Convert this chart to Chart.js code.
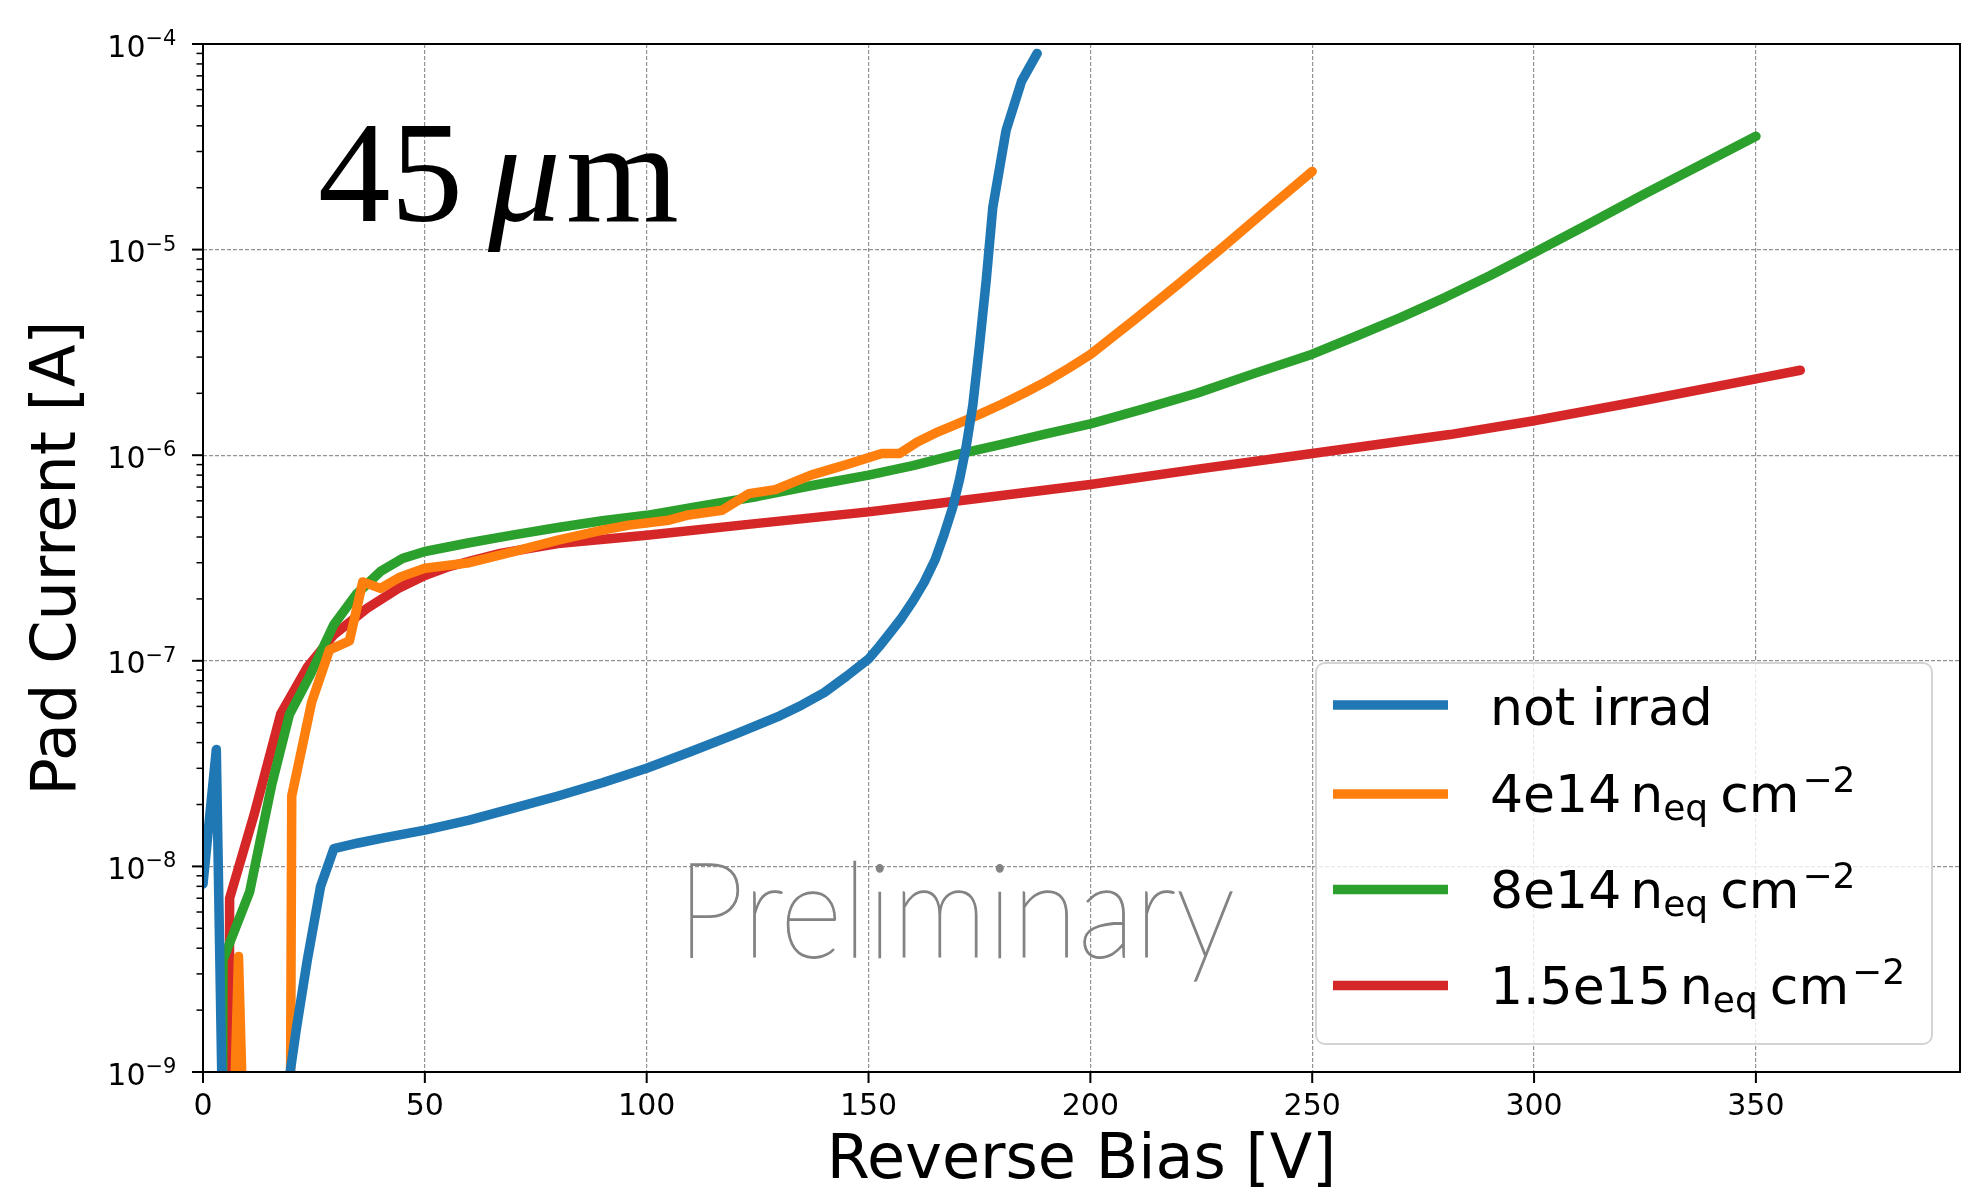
<!DOCTYPE html>
<html><head><meta charset="utf-8">
<script src="https://cdn.jsdelivr.net/npm/chart.js@4/dist/chart.umd.min.js"></script>
<style>html,body{margin:0;padding:0;background:#fff;overflow:hidden}canvas{display:block}</style>
</head><body>
<canvas id="c" width="1961" height="1190"></canvas>
<script>
// ---------- data ----------
const seriesLabels = ['not irrad', '4e14', '8e14', '1.5e15'];
const seriesHasUnit = [false, true, true, true];
const seriesColors = ['#1f77b4', '#ff7f0e', '#2ca02c', '#d62728'];
const xTicks = [0, 50, 100, 150, 200, 250, 300, 350];
const yDecades = [-9, -8, -7, -6, -5, -4];

const notIrradV = [0, 3, 5, 19, 21, 23.5, 26.5, 29.5, 35, 41, 50, 60, 70, 80, 90, 100, 110, 120, 130, 135, 140, 145, 150, 152.5, 155, 157.5, 160, 162.5, 165, 167, 169, 170.5, 172, 173.5, 175, 176.5, 178, 181, 184.5, 188];
const notIrradI = [8.2e-9, 3.7e-8, 1e-10, 8e-10, 1.6e-9, 3.5e-9, 8e-9, 1.22e-8, 1.3e-8, 1.38e-8, 1.5e-8, 1.68e-8, 1.92e-8, 2.2e-8, 2.55e-8, 3.0e-8, 3.62e-8, 4.4e-8, 5.4e-8, 6.1e-8, 7.0e-8, 8.4e-8, 1.02e-7, 1.18e-7, 1.38e-7, 1.62e-7, 1.95e-7, 2.4e-7, 3.1e-7, 4.1e-7, 5.6e-7, 7.6e-7, 1.1e-6, 1.75e-6, 3.4e-6, 7e-6, 1.6e-5, 3.8e-5, 6.6e-5, 9e-5];

const f4e14V = [0, 6, 8, 10, 19, 20, 24.5, 28.5, 33, 36, 40, 44.5, 50, 60, 70, 80, 90, 96, 105, 109, 117, 123, 129, 137, 145, 153, 157, 161, 165, 170, 175, 180, 185, 190, 195, 200, 210, 220, 230, 240, 250];
const f4e14I = [1e-12, 1e-10, 3.65e-9, 1e-10, 1e-13, 2.2e-8, 6.3e-8, 1.13e-7, 1.25e-7, 2.42e-7, 2.25e-7, 2.56e-7, 2.82e-7, 3.0e-7, 3.4e-7, 3.86e-7, 4.32e-7, 4.57e-7, 4.83e-7, 5.1e-7, 5.4e-7, 6.5e-7, 6.8e-7, 8.0e-7, 9.0e-7, 1.02e-6, 1.02e-6, 1.16e-6, 1.28e-6, 1.42e-6, 1.58e-6, 1.77e-6, 2.0e-6, 2.28e-6, 2.64e-6, 3.09e-6, 4.57e-6, 6.84e-6, 1.035e-5, 1.58e-5, 2.4e-5];

const f8e14V = [0, 4, 4.5, 10.5, 15.5, 19.5, 24, 29.5, 34.5, 40, 45, 50, 60, 70, 80, 90, 100, 112, 125, 137, 150, 160, 170, 180, 190, 200, 212, 224, 237, 250, 260, 270, 280, 290, 300, 312.5, 325, 337.5, 350];
const f8e14I = [1e-13, 1e-13, 3.5e-9, 7.5e-9, 2.5e-8, 5.5e-8, 8.4e-8, 1.5e-7, 2.1e-7, 2.72e-7, 3.15e-7, 3.4e-7, 3.75e-7, 4.1e-7, 4.45e-7, 4.8e-7, 5.1e-7, 5.65e-7, 6.3e-7, 7.1e-7, 8.0e-7, 8.9e-7, 1.01e-6, 1.13e-6, 1.27e-6, 1.42e-6, 1.68e-6, 2.0e-6, 2.5e-6, 3.1e-6, 3.8e-6, 4.68e-6, 5.86e-6, 7.46e-6, 9.66e-6, 1.34e-5, 1.87e-5, 2.58e-5, 3.56e-5];

const f15e15V = [0, 5.5, 6, 11.5, 17.5, 23.5, 29.5, 37, 44, 50, 55, 60, 67, 80, 100, 125, 150, 165, 200, 225, 250, 281, 300, 325, 350, 360];
const f15e15I = [1e-13, 1e-13, 7e-9, 1.78e-8, 5.5e-8, 9.3e-8, 1.34e-7, 1.8e-7, 2.25e-7, 2.6e-7, 2.85e-7, 3.05e-7, 3.33e-7, 3.72e-7, 4.08e-7, 4.66e-7, 5.3e-7, 5.8e-7, 7.2e-7, 8.6e-7, 1.02e-6, 1.26e-6, 1.47e-6, 1.85e-6, 2.35e-6, 2.59e-6];

// ---------- helpers ----------
const seriesV = [notIrradV, f4e14V, f8e14V, f15e15V];
const seriesI = [notIrradI, f4e14I, f8e14I, f15e15I];
function pts(v, i) { return v.map((x, k) => ({ x: x, y: i[k] })); }
function isMajor(v) { const l = Math.log10(v); return Math.abs(l - Math.round(l)) < 1e-6; }
const GRID = 'rgba(128,128,128,0.85)';
const FONT = '"DejaVu Sans"';
const LINE_W = 9.5;

function yTickList() {
  const out = [];
  for (let e = -9; e <= -4; e++) {
    for (let s = 1; s <= 9; s++) {
      if (e === -4 && s > 1) break;
      out.push({ value: s * Math.pow(10, e) });
    }
  }
  return out;
}

function roundRectPath(ctx, x, y, w, h, r) {
  ctx.beginPath();
  ctx.moveTo(x + r, y);
  ctx.lineTo(x + w - r, y); ctx.arcTo(x + w, y, x + w, y + r, r);
  ctx.lineTo(x + w, y + h - r); ctx.arcTo(x + w, y + h, x + w - r, y + h, r);
  ctx.lineTo(x + r, y + h); ctx.arcTo(x, y + h, x, y + h - r, r);
  ctx.lineTo(x, y + r); ctx.arcTo(x, y, x + r, y, r);
  ctx.closePath();
}

const decor = {
  id: 'decor',
  afterDatasetsDraw(chart) {
    const { ctx, chartArea: a, scales } = chart;
    const x = scales.x, y = scales.y;
    ctx.save();
    ctx.strokeStyle = '#000'; ctx.lineWidth = 2;
    ctx.strokeRect(a.left, a.top, a.right - a.left, a.bottom - a.top);
    ctx.beginPath();
    xTicks.forEach(v => { const px = x.getPixelForValue(v); ctx.moveTo(px, a.bottom); ctx.lineTo(px, a.bottom + 11); });
    ctx.lineWidth = 2; ctx.stroke();
    y.ticks.forEach(t => {
      const py = y.getPixelForValue(t.value);
      ctx.beginPath();
      if (isMajor(t.value)) { ctx.lineWidth = 2; ctx.moveTo(a.left, py); ctx.lineTo(a.left - 11, py); }
      else { ctx.lineWidth = 1.5; ctx.moveTo(a.left, py); ctx.lineTo(a.left - 6.5, py); }
      ctx.stroke();
    });
    ctx.fillStyle = '#000'; ctx.textBaseline = 'alphabetic';
    yDecades.forEach(e => {
      const py = y.getPixelForValue(Math.pow(10, e));
      ctx.font = '30px ' + FONT; ctx.textAlign = 'right';
      ctx.fillText('10', 145.5, py + 12.5);
      ctx.font = '21px ' + FONT; ctx.textAlign = 'left';
      ctx.fillText('\u2212' + Math.abs(e), 145.5, py + 1);
    });
    ctx.restore();
  },
  afterDraw(chart) {
    const ctx = chart.ctx;
    ctx.save();
    ctx.fillStyle = '#000'; ctx.textBaseline = 'alphabetic'; ctx.textAlign = 'left';
    ctx.font = '145px "Liberation Serif"';
    ctx.fillText('45', 318, 221);
    ctx.font = 'italic 145px "Liberation Serif"';
    ctx.fillText('\u03bc', 488, 221);
    ctx.font = '145px "Liberation Serif"';
    ctx.fillText('m', 566, 221);
    // thin "Preliminary" watermark
    ctx.font = '200 133px Lato, Roboto, sans-serif';
    const w = ctx.measureText('Preliminary').width;
    ctx.save();
    ctx.translate(677, 957);
    ctx.scale(558 / w, 1);
    ctx.fillStyle = '#838383';
    ctx.strokeStyle = '#838383';
    ctx.lineWidth = 1.4;
    ctx.fillText('Preliminary', 0, 0);
    ctx.strokeText('Preliminary', 0, 0);
    ctx.restore();
    // legend
    const L = 1316, T = 663, R = 1932, B = 1044;
    roundRectPath(ctx, L, T, R - L, B - T, 9);
    ctx.fillStyle = 'rgba(255,255,255,0.8)'; ctx.fill();
    ctx.strokeStyle = '#d4d4d4'; ctx.lineWidth = 2; ctx.stroke();
    const rowY = [705, 794, 889.5, 985.5];
    seriesLabels.forEach((lab, k) => {
      const yy = rowY[k];
      ctx.strokeStyle = seriesColors[k]; ctx.lineWidth = LINE_W; ctx.lineCap = 'butt';
      ctx.beginPath(); ctx.moveTo(1333, yy); ctx.lineTo(1448, yy); ctx.stroke();
      ctx.fillStyle = '#000';
      let xx = 1490;
      const base = yy + (seriesHasUnit[k] ? 18 : 20);
      ctx.font = '52px ' + FONT;
      ctx.fillText(lab, xx, base);
      if (seriesHasUnit[k]) {
        xx += ctx.measureText(lab).width + 9;
        ctx.fillText('n', xx, base); xx += ctx.measureText('n').width;
        ctx.font = '36px ' + FONT;
        ctx.fillText('eq', xx, base + 8); xx += ctx.measureText('eq').width + 12;
        ctx.font = '52px ' + FONT;
        ctx.fillText('cm', xx, base); xx += ctx.measureText('cm').width + 3;
        ctx.font = '36px ' + FONT;
        ctx.fillText('\u22122', xx, base - 20);
      }
    });
    ctx.restore();
  }
};

new Chart(document.getElementById('c'), {
  type: 'line',
  data: {
    datasets: seriesLabels.map((lab, k) => ({
      label: seriesHasUnit[k] ? lab + ' n_eq cm^-2' : lab,
      data: pts(seriesV[k], seriesI[k]),
      borderColor: seriesColors[k],
      backgroundColor: seriesColors[k],
      borderWidth: LINE_W,
      pointRadius: 0,
      pointHoverRadius: 0,
      tension: 0,
      fill: false,
      borderCapStyle: 'round',
      borderJoinStyle: 'round'
    }))
  },
  options: {
    responsive: false,
    animation: false,
    devicePixelRatio: 1,
    events: [],
    layout: { padding: { left: 0, right: 1, top: 44, bottom: 0 } },
    plugins: { legend: { display: false }, tooltip: { enabled: false }, title: { display: false } },
    scales: {
      x: {
        type: 'linear', min: 0, max: 396,
        afterBuildTicks: s => { s.ticks = xTicks.map(v => ({ value: v })); },
        afterFit: s => { s.height = 118; },
        grid: {
          color: c => (c.tick && c.tick.value === 0) ? 'rgba(0,0,0,0)' : GRID,
          lineWidth: 1.2, drawTicks: false
        },
        border: { display: false, dash: [4, 2] },
        ticks: { font: { family: 'DejaVu Sans', size: 30 }, color: '#000', padding: 17, maxRotation: 0, autoSkip: false },
        title: { display: true, text: 'Reverse Bias [V]', color: '#000', font: { family: 'DejaVu Sans', size: 62, lineHeight: 0.92 }, padding: 0 }
      },
      y: {
        type: 'logarithmic', min: 1e-9, max: 1e-4,
        afterBuildTicks: s => { s.ticks = yTickList(); },
        afterFit: s => { s.width = 203; },
        grid: {
          color: c => (c.tick && isMajor(c.tick.value)) ? GRID : 'rgba(0,0,0,0)',
          lineWidth: 1.2, drawTicks: false
        },
        border: { display: false, dash: [4, 2] },
        ticks: { display: false },
        title: { display: true, text: 'Pad Current [A]', color: '#000', font: { family: 'DejaVu Sans', size: 62, lineHeight: 0.92 }, padding: { top: 30.5, bottom: 0 } }
      }
    }
  },
  plugins: [decor]
});
</script>
</body></html>
